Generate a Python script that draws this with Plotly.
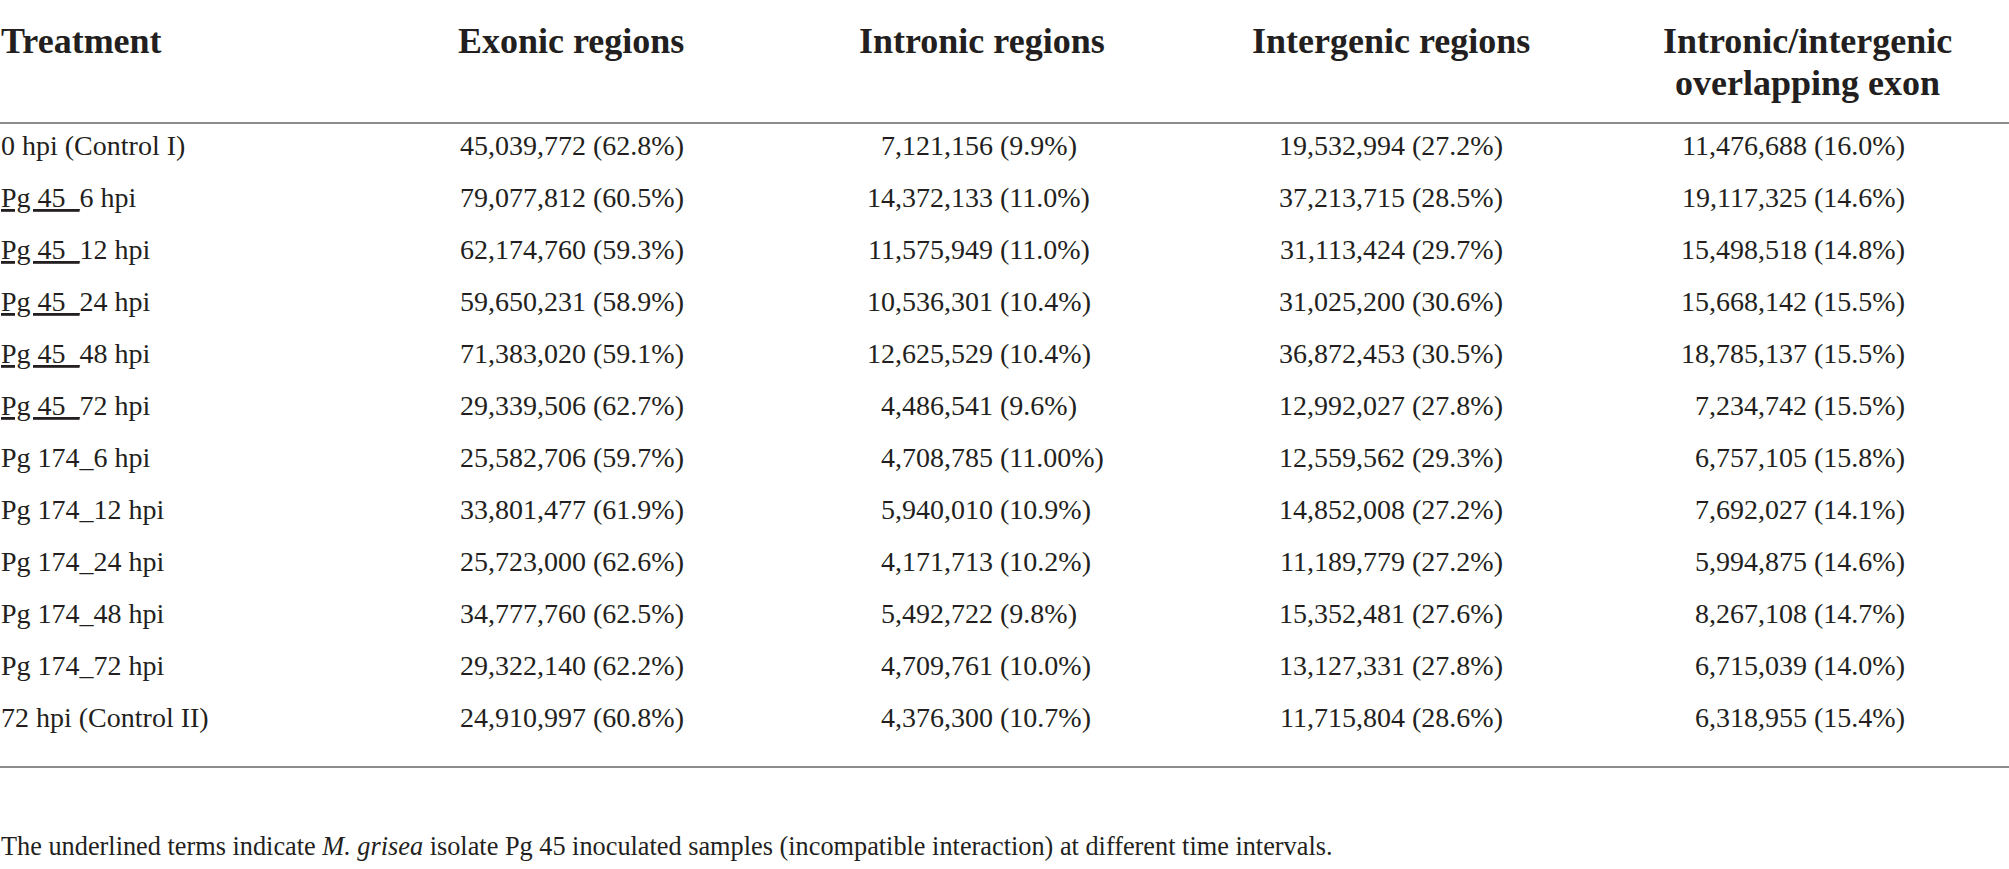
import plotly.graph_objects as go

# table values
treatments = ["0 hpi (Control I)", "Pg 45_6 hpi", "Pg 45_12 hpi", "Pg 45_24 hpi",
              "Pg 45_48 hpi", "Pg 45_72 hpi", "Pg 174_6 hpi", "Pg 174_12 hpi",
              "Pg 174_24 hpi", "Pg 174_48 hpi", "Pg 174_72 hpi", "72 hpi (Control II)"]

exonic = [45039772, 79077812, 62174760, 59650231, 71383020, 29339506,
          25582706, 33801477, 25723000, 34777760, 29322140, 24910997]
exonic_pct = ["62.8", "60.5", "59.3", "58.9", "59.1", "62.7",
              "59.7", "61.9", "62.6", "62.5", "62.2", "60.8"]

intronic = [7121156, 14372133, 11575949, 10536301, 12625529, 4486541,
            4708785, 5940010, 4171713, 5492722, 4709761, 4376300]
intronic_pct = ["9.9", "11.0", "11.0", "10.4", "10.4", "9.6",
                "11.00", "10.9", "10.2", "9.8", "10.0", "10.7"]

intergenic = [19532994, 37213715, 31113424, 31025200, 36872453, 12992027,
              12559562, 14852008, 11189779, 15352481, 13127331, 11715804]
intergenic_pct = ["27.2", "28.5", "29.7", "30.6", "30.5", "27.8",
                  "29.3", "27.2", "27.2", "27.6", "27.8", "28.6"]

overlap = [11476688, 19117325, 15498518, 15668142, 18785137, 7234742,
           6757105, 7692027, 5994875, 8267108, 6715039, 6318955]
overlap_pct = ["16.0", "14.6", "14.8", "15.5", "15.5", "15.5",
               "15.8", "14.1", "14.6", "14.7", "14.0", "15.4"]

# header lines per column (last one is two lines)
headers = [["Treatment"], ["Exonic regions"], ["Intronic regions"], ["Intergenic regions"],
           ["Intronic/intergenic", "overlapping exon"]]
footnote = ("The underlined terms indicate <i>M. grisea</i> isolate Pg 45 inoculated "
            "samples (incompatible interaction) at different time intervals.")

# layout (pixels across, row units down)
W, H = 2009, 869
ROW0, ROWH = 148, 52          # pixel y of first row, row pitch
def py(p):                    # pixel y -> row units
    return (p - ROW0) / ROWH

header_x = [0, 571, 982, 1391, 1807]
header_y = [41, 83]
split_x = [593, 1000, 1412, 1814]   # where "(" starts in each numeric column
GAP = 7

TXT = "#231f20"
FONT = "Liberation Serif"
BODY = 28
HEAD = 36

rows = list(range(len(treatments)))

def label(t):
    if t.startswith("Pg 45_"):
        return "<u>Pg 45_</u>" + t[len("Pg 45_"):]
    return t

fig = go.Figure()

fig.add_trace(go.Scatter(
    x=[1] * len(rows), y=rows, mode="text",
    text=[label(t) for t in treatments],
    textposition="middle right",
    textfont=dict(family=FONT, size=BODY, color=TXT),
    hoverinfo="skip", showlegend=False,
))

for sx, vals, pcts in zip(split_x,
                          [exonic, intronic, intergenic, overlap],
                          [exonic_pct, intronic_pct, intergenic_pct, overlap_pct]):
    fig.add_trace(go.Scatter(
        x=[sx - GAP] * len(rows), y=rows, mode="text",
        text=[f"{v:,}" for v in vals],
        textposition="middle left",
        textfont=dict(family=FONT, size=BODY, color=TXT),
        hoverinfo="skip", showlegend=False,
    ))
    fig.add_trace(go.Scatter(
        x=[sx] * len(rows), y=rows, mode="text",
        text=[f"({p}%)" for p in pcts],
        textposition="middle right",
        textfont=dict(family=FONT, size=BODY, color=TXT),
        hoverinfo="skip", showlegend=False,
    ))

# header
for i, (hx, lines) in enumerate(zip(header_x, headers)):
    for j, h in enumerate(lines):
        fig.add_annotation(
            x=hx, y=py(header_y[j]), xref="x", yref="y",
            text=f"<b>{h}</b>", showarrow=False,
            xanchor="left" if i == 0 else "center", yanchor="middle",
            borderpad=0,
            font=dict(family=FONT, size=HEAD, color=TXT),
        )

# rules
for p in (123, 767):
    fig.add_shape(type="line", xref="x", yref="y", x0=0, x1=W, y0=py(p), y1=py(p),
                  line=dict(color="#8c8c8c", width=2))

fig.add_annotation(
    x=0, y=py(846), xref="x", yref="y", text=footnote, showarrow=False,
    xanchor="left", yanchor="middle", borderpad=0,
    font=dict(family=FONT, size=26.3, color=TXT),
)

fig.update_layout(
    width=W, height=H,
    margin=dict(l=0, r=0, t=0, b=0),
    paper_bgcolor="white", plot_bgcolor="white",
    xaxis=dict(range=[0, W], visible=False, fixedrange=True),
    yaxis=dict(range=[py(H), py(0)], visible=False, fixedrange=True),
)

fig.write_html("out.html", config={"displayModeBar": False},
               post_script="document.body.style.margin='0';document.body.style.overflow='hidden';")
